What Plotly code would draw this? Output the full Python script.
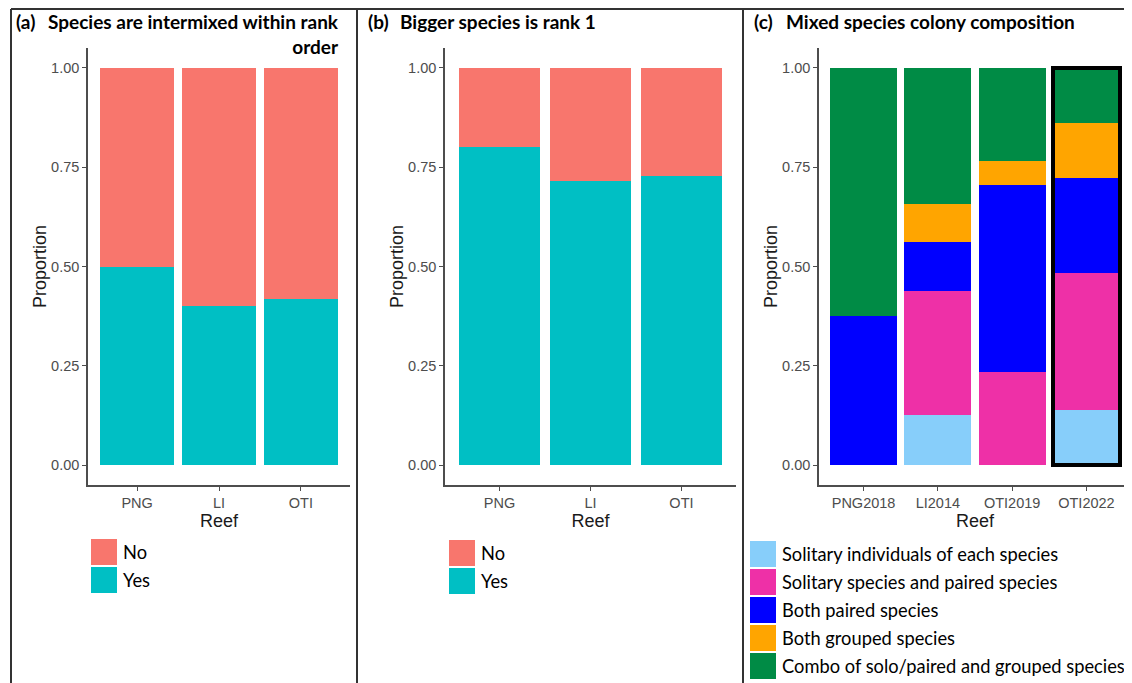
import plotly.graph_objects as go

OFF = 8                      # browser body margin
W, H = 1132 - OFF, 683 - OFF

# ---------------- data ----------------
reefs_ab = ["PNG", "LI", "OTI"]
answers = ["No", "Yes"]
answer_colors = ["#F8766D", "#00BFC4"]
intermixed_yes = [0.500, 0.400, 0.417]
bigger_rank1_yes = [0.800, 0.714, 0.727]

colonies = ["PNG2018", "LI2014", "OTI2019", "OTI2022"]
compositions = [
    "Solitary individuals of each species",
    "Solitary species and paired species",
    "Both paired species",
    "Both grouped species",
    "Combo of solo/paired and grouped species",
]
comp_colors = ["#87CEFA", "#EE30A7", "#0000FF", "#FFA500", "#008B45"]
solitary_each = [0.000, 0.125, 0.000, 0.138]
solitary_paired = [0.000, 0.3125, 0.235, 0.345]
both_paired = [0.375, 0.125, 0.471, 0.241]
both_grouped = [0.000, 0.094, 0.059, 0.138]
combo = [0.625, 0.344, 0.235, 0.138]
highlight = "OTI2022"

y_ticks = [0, 0.25, 0.5, 0.75, 1.0]

panel_tags = ["(a)", "(b)", "(c)"]
panel_titles = ["Species are intermixed within rank<br>order",
                "Bigger species is rank 1",
                "Mixed species colony composition"]

# ---------------- layout helpers ----------------
def px_x(x):
    return (x - OFF) / W

def px_y(y):
    return 1 - (y - OFF) / H

x_domains = [(88, 350), (445, 736), (819, 1131)]
y_dom = [px_y(485), px_y(48)]

TICK_FONT = dict(family="Liberation Sans, Arial", size=14.5, color="#4D4D4D")
TITLE_FONT = dict(family="Liberation Sans, Arial", size=18, color="#1A1A1A")
LAB_FONT = "Lato, Noto Sans"

fig = go.Figure()

# panel a & b
for i, yes_vals in enumerate([intermixed_yes, bigger_rank1_yes]):
    ax = "" if i == 0 else str(i + 1)
    no_vals = [1 - v for v in yes_vals]
    for name, vals, col in [("Yes", yes_vals, answer_colors[1]), ("No", no_vals, answer_colors[0])]:
        fig.add_trace(go.Bar(x=reefs_ab, y=vals, name=name, marker=dict(color=col, line=dict(width=0)),
                             width=0.9, showlegend=False, xaxis="x" + ax, yaxis="y" + ax))

# panel c
comp_series = [solitary_each, solitary_paired, both_paired, both_grouped, combo]
for name, vals, col in zip(compositions, comp_series, comp_colors):
    fig.add_trace(go.Bar(x=colonies, y=vals, name=name, marker=dict(color=col, line=dict(width=0)),
                         width=0.9, showlegend=False, xaxis="x3", yaxis="y3"))

# outline around highlighted colony bar (overlay axes)
hi = colonies.index(highlight)
total_hi = sum(s[hi] for s in comp_series)
fig.add_trace(go.Bar(x=[highlight], y=[total_hi], marker=dict(color="rgba(0,0,0,0)",
                     line=dict(color="black", width=4)), width=0.9, showlegend=False,
                     xaxis="x4", yaxis="y4", hoverinfo="skip"))

layout = dict(
    width=W, height=H, margin=dict(l=0, r=0, t=0, b=0),
    paper_bgcolor="white", plot_bgcolor="white",
    barmode="stack", bargap=0.1,
)

cats = [reefs_ab, reefs_ab, colonies]
for i, (d, c) in enumerate(zip(x_domains, cats)):
    ax = "" if i == 0 else str(i + 1)
    layout["xaxis" + ax] = dict(
        domain=[px_x(d[0]), px_x(d[1])], anchor="y" + ax, type="category",
        categoryorder="array", categoryarray=c, range=[-0.6, len(c) - 0.4],
        showline=True, linecolor="#4D4D4D", linewidth=1.6, ticks="outside", ticklen=4,
        tickcolor="#4D4D4D", tickwidth=1.2, tickfont=TICK_FONT, showgrid=False, zeroline=False,
        title=dict(text="Reef", font=TITLE_FONT, standoff=2), fixedrange=True,
    )
    layout["yaxis" + ax] = dict(
        domain=y_dom, anchor="x" + ax, range=[-0.05, 1.05], tickvals=y_ticks, tickformat=".2f",
        showline=True, linecolor="#4D4D4D", linewidth=1.6, ticks="outside", ticklen=4,
        tickcolor="#4D4D4D", tickwidth=1.2, tickfont=TICK_FONT, showgrid=False, zeroline=False,
        title=dict(text="Proportion", font=TITLE_FONT, standoff=0), fixedrange=True,
    )

layout["xaxis4"] = dict(overlaying="x3", type="category", categoryorder="array",
                        categoryarray=colonies, range=[-0.6, len(colonies) - 0.4], visible=False,
                        anchor="y4")
layout["yaxis4"] = dict(overlaying="y3", range=[-0.05, 1.05], visible=False, anchor="x4")

fig.update_layout(**layout)

# ---------------- titles ----------------
tag_x = [14, 366, 752]
title_x = [46, 398, 784]
for tx, tt, tag, ttl in zip(tag_x, title_x, panel_tags, panel_titles):
    fig.add_annotation(x=px_x(tx), y=px_y(8.5), xref="paper", yref="paper", xanchor="left",
                       yanchor="top", text="<b>" + tag + "</b>", showarrow=False,
                       font=dict(family=LAB_FONT, size=19, color="black"))
    fig.add_annotation(x=px_x(tt), y=px_y(8.5), xref="paper", yref="paper", xanchor="left",
                       yanchor="top", text="<b>" + ttl + "</b>", showarrow=False, align="right",
                       font=dict(family=LAB_FONT, size=19, color="black"))

# ---------------- legends (drawn keys) ----------------
def draw_legend(x0, y0, labels, colors, pitch=28, size=26):
    for k, (lab, col) in enumerate(zip(labels, colors)):
        top = y0 + k * pitch
        fig.add_shape(type="rect", xref="paper", yref="paper",
                      x0=px_x(x0), x1=px_x(x0 + size), y0=px_y(top + size), y1=px_y(top),
                      fillcolor=col, line=dict(width=0))
        fig.add_annotation(x=px_x(x0 + size + 4), y=px_y(top + size / 2), xref="paper", yref="paper",
                           xanchor="left", yanchor="middle", text=lab, showarrow=False,
                           font=dict(family=LAB_FONT, size=18.3, color="black"))

draw_legend(91, 539, answers, answer_colors)
draw_legend(449, 540, answers, answer_colors)
draw_legend(750, 541, compositions, comp_colors)

# ---------------- frame lines ----------------
frame = dict(color="#333333", width=2)
fig.add_shape(type="line", xref="paper", yref="paper", x0=px_x(11), x1=1, y0=px_y(9), y1=px_y(9), line=frame)
for xv in [11, 357, 743]:
    fig.add_shape(type="line", xref="paper", yref="paper", x0=px_x(xv), x1=px_x(xv),
                  y0=px_y(9), y1=0, line=frame)

fig.write_html("out.html")
